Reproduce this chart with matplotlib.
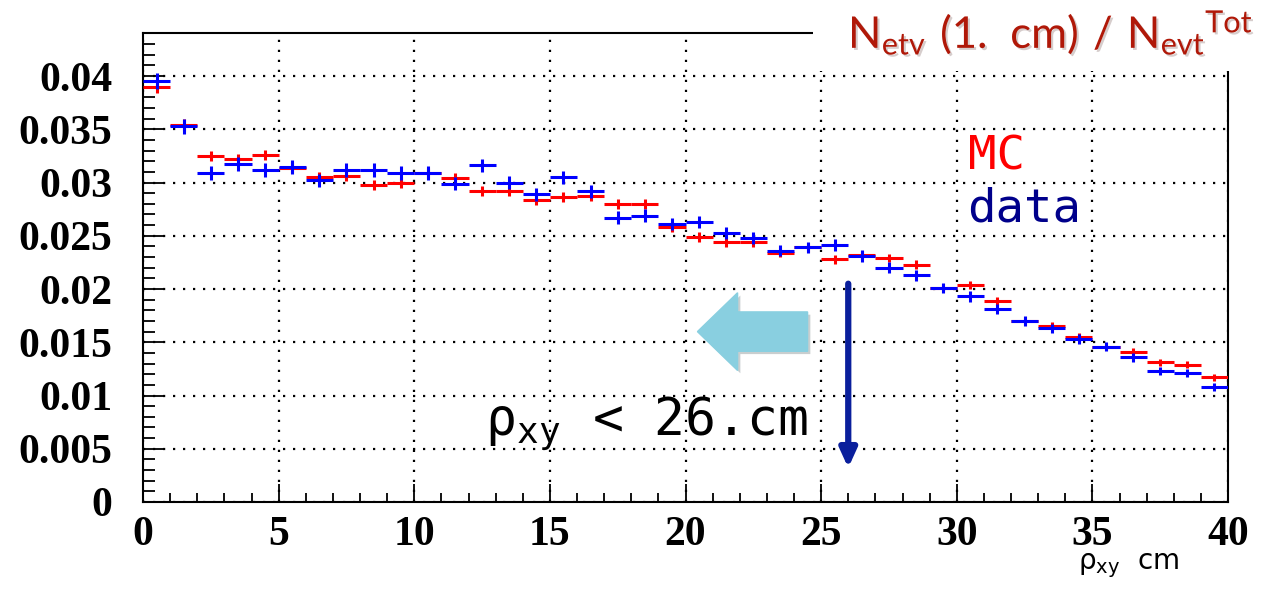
import numpy as np
import matplotlib
matplotlib.use("Agg")
import matplotlib.pyplot as plt
import matplotlib.patheffects as pe
from matplotlib.patches import Rectangle, FancyArrow

#Data: fraction of events per 1 cm bin of rho_xy
bin_lo = list(range(0, 40))
mc_vals = [0.0390, 0.0354, 0.0325, 0.0322, 0.0326, 0.0314, 0.0305, 0.0306, 0.0298, 0.0300,
           0.0309, 0.0304, 0.0292, 0.0292, 0.0284, 0.0286, 0.0287, 0.0280, 0.0280, 0.0258,
           0.0249, 0.0244, 0.0244, 0.0234, 0.0239, 0.0228, 0.0232, 0.0229, 0.0223, 0.0201,
           0.0204, 0.0189, 0.0170, 0.0165, 0.0155, 0.0146, 0.0141, 0.0131, 0.0129, 0.0117]
data_vals = [0.0395, 0.0353, 0.0309, 0.0317, 0.0312, 0.0315, 0.0302, 0.0312, 0.0312, 0.0309,
             0.0309, 0.0299, 0.0316, 0.0300, 0.0289, 0.0305, 0.0292, 0.0267, 0.0269, 0.0261,
             0.0263, 0.0253, 0.0248, 0.0236, 0.0239, 0.0241, 0.0231, 0.0220, 0.0213, 0.0201,
             0.0193, 0.0181, 0.0170, 0.0163, 0.0153, 0.0146, 0.0136, 0.0123, 0.0121, 0.0108]
mc_err = [0.00055, 0.00052, 0.00050, 0.00050, 0.00050, 0.00049, 0.00048, 0.00048, 0.00048, 0.00048,
          0.00048, 0.00048, 0.00047, 0.00047, 0.00047, 0.00047, 0.00047, 0.00046, 0.00046, 0.00045,
          0.00044, 0.00043, 0.00043, 0.00042, 0.00042, 0.00041, 0.00041, 0.00041, 0.00040, 0.00039,
          0.00039, 0.00038, 0.00036, 0.00036, 0.00035, 0.00034, 0.00034, 0.00033, 0.00033, 0.00032]
data_err = [0.00075, 0.00070, 0.00066, 0.00066, 0.00066, 0.00066, 0.00064, 0.00064, 0.00064, 0.00064,
            0.00064, 0.00063, 0.00064, 0.00062, 0.00061, 0.00062, 0.00061, 0.00058, 0.00058, 0.00057,
            0.00057, 0.00056, 0.00056, 0.00054, 0.00055, 0.00055, 0.00054, 0.00052, 0.00051, 0.00050,
            0.00049, 0.00048, 0.00046, 0.00045, 0.00044, 0.00043, 0.00041, 0.00040, 0.00039, 0.00038]

x_ticks = [0, 5, 10, 15, 20, 25, 30, 35, 40]
y_ticks = [0, 0.005, 0.01, 0.015, 0.02, 0.025, 0.03, 0.035, 0.04]
y_ticklabels = ["0", "0.005", "0.01", "0.015", "0.02", "0.025", "0.03", "0.035", "0.04"]
cut_value = 26

plt.rcParams['mathtext.fontset'] = 'dejavusans'

fig = plt.figure(figsize=(12.72, 5.93), dpi=100)
ax = fig.add_axes([143/1272, 1 - 502/593, (1228 - 143)/1272, (502 - 33)/593])

centers = np.array(bin_lo) + 0.5
ax.errorbar(centers, mc_vals, xerr=0.5, yerr=mc_err, fmt='none', ecolor='#ff0000', elinewidth=2.2, capsize=0, zorder=3)
ax.errorbar(centers, data_vals, xerr=0.5, yerr=data_err, fmt='none', ecolor='#0000ff', elinewidth=2.2, capsize=0, zorder=4)

ax.set_xlim(0, 40)
ax.set_ylim(0, 0.04404)
ax.set_xticks(x_ticks)
ax.set_xticklabels([str(v) for v in x_ticks])
ax.set_yticks(y_ticks)
ax.set_yticklabels(y_ticklabels)
ax.set_xticks(np.arange(0, 41, 1), minor=True)
ax.set_yticks(np.arange(0, 0.0441, 0.001), minor=True)

for lab in ax.get_xticklabels() + ax.get_yticklabels():
    lab.set_fontfamily('Liberation Serif')
    lab.set_fontweight('bold')
    lab.set_fontsize(30)
ax.tick_params(axis='y', which='major', direction='in', length=16, width=1.3, pad=22)
ax.tick_params(axis='y', which='minor', direction='in', length=8.5, width=1.3)
ax.tick_params(axis='x', which='major', direction='in', length=13, width=1.3, pad=10)
ax.tick_params(axis='x', which='minor', direction='in', length=6.5, width=1.3)
for s in ax.spines.values():
    s.set_linewidth(1.5)

ax.grid(True, which='major', color='black', linestyle=(0, (1, 3.5)), linewidth=1.6, zorder=1)
ax.set_axisbelow(True)

#Cut arrow and "keep" arrow
ax.annotate('', xy=(cut_value, 0.0032), xytext=(cut_value, 0.0205),
            arrowprops=dict(arrowstyle='-|>,head_length=1.1,head_width=0.5', color='#0a1f9c', lw=4.5,
                            shrinkA=0, shrinkB=0), zorder=6)
big = FancyArrow(24.5, 0.0160, -4.06, 0, width=0.0037, head_width=0.0073, head_length=1.48,
                 length_includes_head=True, color='#89cfe0', zorder=5,
                 path_effects=[pe.SimplePatchShadow(offset=(2, -2), alpha=0.25), pe.Normal()])
ax.add_patch(big)

ax.text(12.6, 0.0063, r'$\mathregular{\rho_{xy}}$' + ' < 26.cm', fontsize=37, family='DejaVu Sans Mono',
        color='black', zorder=7)
ax.text(30.4, 0.0312, 'MC', fontsize=34, family='DejaVu Sans Mono', color='#ff0000', zorder=7)
ax.text(30.4, 0.0263, 'data', fontsize=34, family='DejaVu Sans Mono', color='#00008b', zorder=7)

fig.text(1078/1272, 1 - 569/593, r'$\mathregular{\rho_{xy}}$' + '  cm', fontsize=20, family='DejaVu Sans',
         color='black')

#white box under the title
fig.patches.append(Rectangle((813/1272, 1 - 71/593), 1, 1, transform=fig.transFigure,
                             facecolor='white', edgecolor='none', zorder=10))
fig.text(848/1272, 1 - 48/593, r'$\mathregular{N_{etv}\ (1.\ cm)\ /\ N_{evt}{}^{Tot}}$',
         fontsize=31.5, family='Lato', color='#b01808', va='baseline', zorder=11,
         path_effects=[pe.withSimplePatchShadow(offset=(1.5, -1.5), alpha=0.2)])

fig.savefig('out.png', dpi=100)
